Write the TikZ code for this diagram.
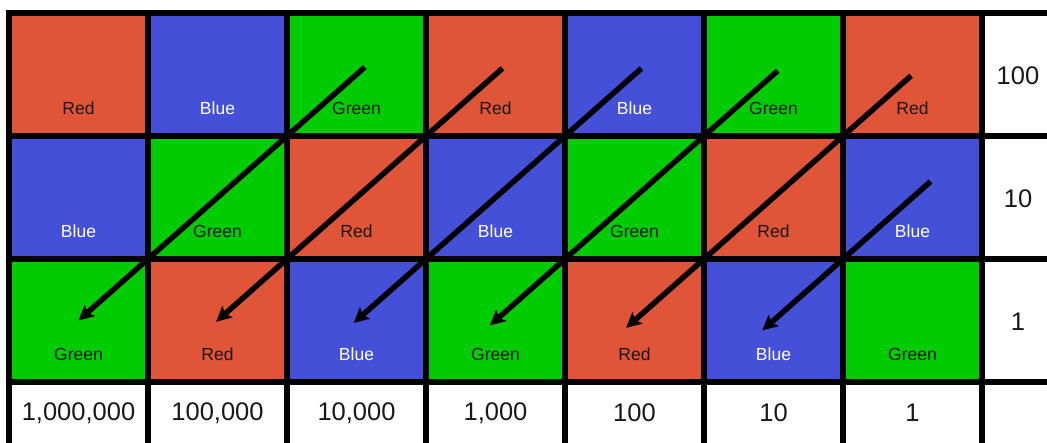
\documentclass[tikz,border=0pt]{standalone}
\usepackage{fontspec}
\setmainfont{Liberation Sans}
\usetikzlibrary{arrows.meta,calc}

\definecolor{cred}{HTML}{E05438}
\definecolor{cblue}{HTML}{4450D7}
\definecolor{cgreen}{HTML}{00CC00}

\newcommand\colnameR{Red}
\newcommand\colnameB{Blue}
\newcommand\colnameG{Green}

\tikzset{
  cell/.style={rectangle, minimum width=139pt, minimum height=123pt, inner sep=0pt, outer sep=0pt},
  cellR/.style={cell, fill=cred},
  cellB/.style={cell, fill=cblue},
  cellG/.style={cell, fill=cgreen},
  lbl/.style={font=\fontsize{17.5}{20}\selectfont, inner sep=0pt},
  lblR/.style={lbl, text=black!90},
  lblB/.style={lbl, text=white},
  lblG/.style={lbl, text=black!90},
  numlbl/.style={font=\fontsize{25.5}{28}\selectfont, inner sep=0pt, text=black!90},
  gridline/.style={line width=6.5pt, black},
  shiftarrow/.style={line width=5.5pt, black, line cap=butt,
    -{Stealth[length=15pt, width=15pt, inset=3pt]}}
}

\begin{document}
\begin{tikzpicture}[x=1pt, y=-1pt]
  \useasboundingbox (0,0) rectangle (1047,442);
  \fill[white] (0,0) rectangle (1047,442);
  \clip (0,0) rectangle (1047,442);

  % colour cells: rows 1..3, columns 1..7
  \foreach \r/\rowlist in {1/{R,B,G,R,B,G,R}, 2/{B,G,R,B,G,R,B}, 3/{G,R,B,G,R,B,G}} {
    \foreach \k [count=\c] in \rowlist {
      \pgfmathsetmacro{\cx}{9+139*(\c-1)+69.5}
      \pgfmathsetmacro{\cy}{13+123*(\r-1)+61.5}
      \node[cell\k] (r\r c\c) at (\cx,\cy) {};
      \node[lbl\k] (t\r c\c) at ([yshift=28pt]r\r c\c.south) {\csname colname\k\endcsname};
    }
  }

  % place values along the bottom
  \foreach \v [count=\c] in {{1,000,000},{100,000},{10,000},{1,000},100,10,1} {
    \node[numlbl] (v\c) at ({9+139*(\c-1)+69.5}, 413) {\v};
  }
  % place values down the right side
  \node[numlbl] (p1) at (1018, 76) {100};
  \node[numlbl] (p2) at (1018, 199) {10};
  \node[numlbl] (p3) at (1018, 322) {1};

  % grid lines
  \foreach \y in {13,136,259,382}
    \draw[gridline] (5.75,\y) -- (1060,\y);
  \foreach \x in {9,148,287,426,565,704,843,982}
    \draw[gridline] (\x,9.75) -- (\x,460);

  % diagonal carries
  \foreach \a/\b/\s/\e in {3/1/0.56/0.50, 4/2/0.55/0.51, 5/3/0.55/0.52, 6/4/0.53/0.54, 7/5/0.49/0.56} {
    \coordinate (s\b) at ($(r1c\a.south west)!\s!(r1c\a.north east)$);
    \coordinate (e\b) at ($(r3c\b.north east)!\e!(r3c\b.south west)$);
    \draw[shiftarrow] (s\b) -- (e\b);
  }
  \coordinate (s6) at ($(r2c7.south west)!0.63!(r2c7.north east)$);
  \coordinate (e6) at ($(r3c6.north east)!0.58!(r3c6.south west)$);
  \draw[shiftarrow] (s6) -- (e6);
\end{tikzpicture}
\end{document}
